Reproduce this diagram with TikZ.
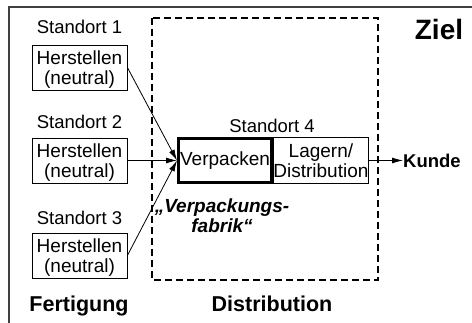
\documentclass[tikz,border=0pt]{standalone}
\usepackage{fontspec}
\setmainfont{Liberation Sans}
\usetikzlibrary{positioning, arrows.meta}

\begin{document}
\begin{tikzpicture}[x=1pt, y=-1pt,
    box/.style={draw, line width=0.8pt, inner sep=0pt, minimum width=95pt,
        minimum height=45pt, align=center, font=\fontsize{19}{20}\selectfont},
    lbl/.style={font=\fontsize{18.5}{20}\selectfont, inner sep=0pt, anchor=base},
    big/.style={font=\bfseries\fontsize{21.5}{24}\selectfont, inner sep=0pt, anchor=base},
    pfeil/.style={-{Latex[length=11pt,width=6pt]}, line width=0.8pt}]

    \useasboundingbox (0,0) rectangle (472,323);
    \draw[black!75, line width=1.5pt] (9,323) -- (9,7) -- (472,7);
    \draw[line width=1.3pt, dash pattern=on 7pt off 4pt] (152,18) rectangle (378,280);

    % Fertigung
    \node[box, text depth=0pt] (h1) at (79.5,67.5) {Herstellen\\(neutral)};
    \node[box, text depth=0pt] (h2) at (79.5,160.5) {Herstellen\\(neutral)};
    \node[box, text depth=0pt] (h3) at (79.5,255.5) {Herstellen\\(neutral)};
    \node[lbl] (s1) at (79.5,34) {Standort 1};
    \node[lbl] (s2) at (79.5,129) {Standort 2};
    \node[lbl] (s3) at (79.5,225) {Standort 3};

    % Distribution
    \node[box, line width=3pt, minimum width=93pt, minimum height=44pt] (verp) at (225,160.5) {Verpacken};
    \node[box, minimum width=94pt, minimum height=46pt, right=0pt of verp] (lager) {Lagern/\\Distribution};
    \node[lbl] (s4) at (272,133) {Standort 4};
    \node[font=\bfseries\itshape\fontsize{19}{20}\selectfont, align=center, inner sep=0pt]
        (fabrik) at (222,216) {„Verpackungs-\\fabrik“};
    \node[lbl, font=\bfseries\fontsize{18.5}{20}\selectfont, anchor=base west] (kunde) at (403,168) {Kunde};

    \node[big, font=\bfseries\fontsize{28}{30}\selectfont] (ziel) at (439,40) {Ziel};
    \node[big] (fert) at (79,312) {Fertigung};
    \node[big] (dist) at (272,312) {Distribution};

    \draw[pfeil] (h1.east) -- (verp.west);
    \draw[pfeil] (h2.east) -- (verp.west);
    \draw[pfeil] (h3.east) -- (verp.west);
    \draw[pfeil] (lager.east) -- (lager.east -| kunde.west);
\end{tikzpicture}
\end{document}
